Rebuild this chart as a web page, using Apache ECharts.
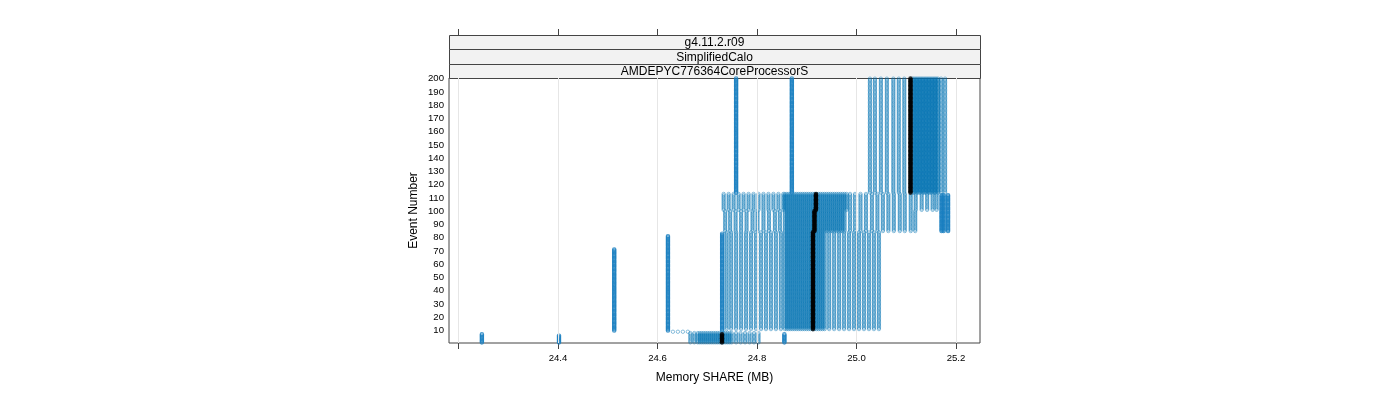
<!DOCTYPE html>
<html><head><meta charset="utf-8">
<script src="https://cdn.jsdelivr.net/npm/echarts@6/dist/echarts.min.js"></script>
<style>html,body{margin:0;padding:0;background:#fff}#c{width:1400px;height:400px}</style>
</head><body><div id="c"></div>
<script>
// ---------------- data (Memory SHARE in MB, per event number) ----------------
const stripLabels = ['g4.11.2.r09', 'SimplifiedCalo', 'AMDEPYC776364CoreProcessorS'];
const xTickValues = [24.2, 24.4, 24.6, 24.8, 25.0, 25.2];
const xLabelValues = [24.4, 24.6, 24.8, 25.0, 25.2];
const yTickValues = [10, 20, 30, 40, 50, 60, 70, 80, 90, 100, 110, 120, 130, 140, 150, 160, 170, 180, 190, 200];

// groups of events that share the same set of SHARE values
const bottomEvents = [1, 8];
const bottomShare = [24.666, 24.674,
  24.681, 24.685, 24.689, 24.693, 24.697, 24.701, 24.705, 24.709, 24.713, 24.717, 24.721, 24.725, 24.729, 24.733, 24.737, 24.741, 24.745,
  24.749, 24.758, 24.767, 24.776, 24.785, 24.794, 24.803];
const event9Events = [9, 9];
const event9Share = [24.631, 24.641, 24.651, 24.661];
const lowerEvents = [11, 84];
const lowerShare = [24.739, 24.748, 24.758, 24.768, 24.778, 24.788, 24.798, 24.808, 24.818, 24.828, 24.838, 24.848,
  24.856, 24.860, 24.864, 24.868, 24.872, 24.876, 24.880, 24.884, 24.888, 24.892, 24.896, 24.900, 24.904, 24.908, 24.912, 24.916, 24.920, 24.924, 24.928, 24.932, 24.936,
  24.945, 24.955, 24.965, 24.975, 24.985, 24.995, 25.005, 25.015, 25.025, 25.035, 25.045];
const midLowEvents = [85, 100];
const midLowShare = [24.736, 24.746, 24.757, 24.768, 24.779, 24.791, 24.801, 24.813, 24.824, 24.836, 24.846,
  24.856, 24.860, 24.864, 24.868, 24.872, 24.876, 24.880, 24.884, 24.888, 24.892, 24.896, 24.900, 24.904, 24.908, 24.912, 24.916, 24.920, 24.924, 24.928, 24.932, 24.936, 24.940, 24.944, 24.948, 24.952, 24.956, 24.960, 24.964, 24.968, 24.972, 24.976,
  24.987, 24.997, 25.008, 25.019, 25.031, 25.042, 25.053, 25.064, 25.075, 25.087, 25.097, 25.109, 25.118];
const midHighEvents = [101, 113];
const midHighShare = [24.733, 24.743, 24.753, 24.763, 24.773, 24.783, 24.793, 24.803, 24.813, 24.823, 24.833, 24.843, 24.853,
  24.856, 24.860, 24.864, 24.868, 24.872, 24.876, 24.880, 24.884, 24.888, 24.892, 24.896, 24.900, 24.904, 24.908, 24.912, 24.916, 24.920, 24.924, 24.928, 24.932, 24.936, 24.940, 24.944, 24.948, 24.952, 24.956, 24.960, 24.964, 24.968, 24.972, 24.976, 24.980,
  24.987, 24.997, 25.008, 25.019, 25.031, 25.042, 25.053, 25.064, 25.075, 25.087, 25.097, 25.109, 25.119, 25.131, 25.142, 25.153, 25.161];
const topEvents = [114, 200];
const topShare = [25.027, 25.037, 25.049, 25.061, 25.074, 25.085, 25.096,
  25.113, 25.116, 25.119, 25.122, 25.125, 25.128, 25.131, 25.134, 25.137, 25.140, 25.143, 25.146, 25.149, 25.152, 25.155, 25.158, 25.161, 25.164,
  25.170, 25.178];

// runs that stay at one value over a span of events: [share, firstEvent, lastEvent]
const steadyRuns = [
  [24.247, 1, 7], [24.402, 1, 6], [24.513, 10, 71], [24.621, 10, 81], [24.730, 10, 83],
  [24.855, 1, 7], [24.758, 114, 200], [24.870, 114, 200],
  [25.171, 85, 112], [25.175, 85, 112], [25.184, 85, 112]
];
// black reference points: [share, firstEvent, lastEvent]
const medianRuns = [[24.7296, 1, 7], [24.9125, 11, 84], [24.9155, 85, 100], [24.9185, 101, 113], [25.1085, 114, 200]];

// ---------------- build point lists ----------------
function addGroup(out, shares, range) {
  for (let e = range[0]; e <= range[1]; e++) for (const s of shares) out.push([s, e]);
}
function addRuns(out, runs) {
  for (const r of runs) for (let e = r[1]; e <= r[2]; e++) out.push([r[0], e]);
}
const bluePts = [];
addGroup(bluePts, bottomShare, bottomEvents);
addGroup(bluePts, event9Share, event9Events);
addGroup(bluePts, lowerShare, lowerEvents);
addGroup(bluePts, midLowShare, midLowEvents);
addGroup(bluePts, midHighShare, midHighEvents);
addGroup(bluePts, topShare, topEvents);
const runPts = [];
addRuns(runPts, steadyRuns);
const blackPts = [];
addRuns(blackPts, medianRuns);

// ---------------- chart ----------------
const FONT = '"Liberation Sans", Arial, sans-serif';
const L = 449, R = 980, T = 78, B = 343, STRIP_TOP = 35;
const stripH = (T - STRIP_TOP) / stripLabels.length;
const graphics = [];
stripLabels.forEach((txt, i) => {
  const y0 = STRIP_TOP + i * stripH;
  graphics.push({ type: 'rect', z: 10, shape: { x: L + 0.5, y: Math.round(y0) + 0.5, width: R - L, height: Math.round(y0 + stripH) - Math.round(y0) },
    style: { fill: '#f2f2f2', stroke: '#444', lineWidth: 1 } });
  graphics.push({ type: 'text', z: 11, style: { text: txt, x: (L + R) / 2, y: y0 + stripH / 2 + 1, align: 'center', verticalAlign: 'middle',
    font: '12px ' + FONT, fill: '#000' } });
});

const chart = echarts.init(document.getElementById('c'), null, { renderer: 'canvas' });
chart.setOption({
  animation: false,
  backgroundColor: '#fff',
  textStyle: { fontFamily: FONT },
  grid: { left: L, right: 1400 - R, top: T, bottom: 400 - B, show: true, borderColor: '#444', borderWidth: 1, backgroundColor: 'transparent' },
  xAxis: [{
    type: 'value', min: 24.1809, max: 25.2482, position: 'bottom',
    axisLine: { show: false },
    axisTick: { show: true, length: 6, customValues: xTickValues, lineStyle: { color: '#444' } },
    axisLabel: { show: true, customValues: xLabelValues, margin: 10, fontSize: 9.6, color: '#000', fontFamily: FONT,
      formatter: v => Number(v).toFixed(1) },
    splitLine: { show: false },
    name: 'Memory SHARE (MB)', nameLocation: 'middle', nameGap: 29,
    nameTextStyle: { fontSize: 12, color: '#000', fontFamily: FONT }
  }, {
    type: 'value', min: 24.1809, max: 25.2482, position: 'top', offset: T - STRIP_TOP,
    axisLine: { show: false },
    axisTick: { show: true, length: 6, customValues: xTickValues, lineStyle: { color: '#444' } },
    axisLabel: { show: false }, splitLine: { show: false }
  }],
  yAxis: {
    type: 'value', min: 0.5, max: 200.5,
    axisLine: { show: false }, axisTick: { show: false },
    axisLabel: { show: true, customValues: yTickValues, margin: 5, fontSize: 9.6, color: '#000', fontFamily: FONT },
    splitLine: { show: false },
    name: 'Event Number', nameLocation: 'middle', nameGap: 29,
    nameTextStyle: { fontSize: 12, color: '#000', fontFamily: FONT }
  },
  graphic: graphics,
  series: [{
    type: 'scatter', data: [], z: 1, silent: true,
    markLine: { silent: true, symbol: ['none', 'none'], label: { show: false }, animation: false,
      lineStyle: { color: '#e6e6e6', type: 'solid', width: 1 },
      data: xTickValues.map(v => ({ xAxis: v })) }
  }, {
    type: 'scatter', data: bluePts, z: 2, silent: true, progressive: 0, large: false,
    symbol: 'circle', symbolSize: 3.4,
    itemStyle: { color: 'rgba(0,0,0,0)', borderColor: 'rgba(0,114,178,0.8)', borderWidth: 0.7 }
  }, {
    type: 'scatter', data: runPts, z: 2, silent: true, progressive: 0, large: false,
    symbol: 'circle', symbolSize: 3.4,
    itemStyle: { color: 'rgba(0,0,0,0)', borderColor: '#1a7fc0', borderWidth: 1.2 }
  }, {
    type: 'scatter', data: blackPts, z: 3, silent: true, progressive: 0,
    symbol: 'circle', symbolSize: 4.6,
    itemStyle: { color: '#000' }
  }]
});
</script></body></html>
